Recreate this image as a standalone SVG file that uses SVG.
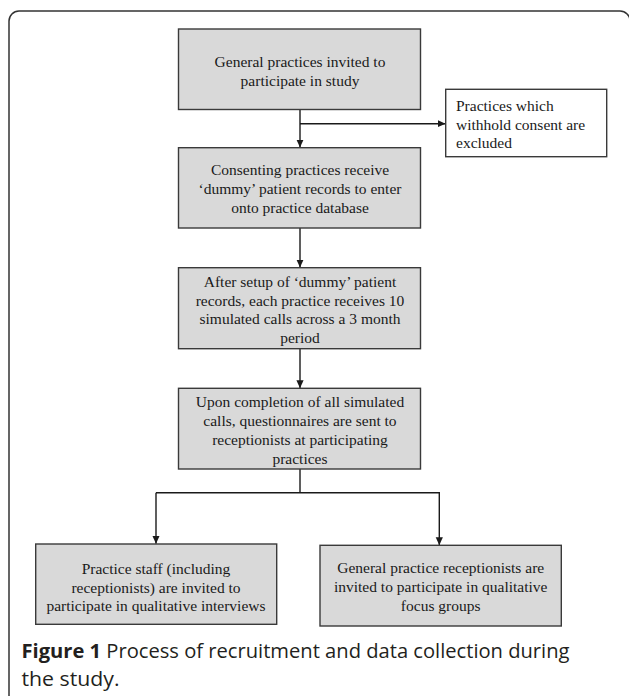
<svg xmlns="http://www.w3.org/2000/svg" width="629" height="696" viewBox="0 0 629 696">
<defs>
<style>
.box{fill:#d9d9d9;stroke:#3a3a3a;stroke-width:1.4}
.wbox{fill:#ffffff;stroke:#3a3a3a;stroke-width:1.4}
.t{font-family:"Liberation Serif","Times New Roman",serif;font-size:15.5px;fill:#1a1a1a;text-anchor:middle}
.tl{font-family:"Liberation Serif","Times New Roman",serif;font-size:15.5px;fill:#1a1a1a;text-anchor:start}
.ln{fill:none;stroke:#1a1a1a;stroke-width:1.4}
.cap{font-family:"Open Sans","Noto Sans","Liberation Sans",sans-serif;font-size:19.5px;font-weight:500;fill:#231f20}
</style>
<marker id="ah" viewBox="0 0 10 10" refX="10" refY="5" markerWidth="8" markerHeight="8" markerUnits="userSpaceOnUse" orient="auto">
<path d="M0,0.5 L10,5 L0,9.5 Z" fill="#1a1a1a"/>
</marker>
</defs>
<rect width="629" height="696" fill="#ffffff"/>
<path d="M9,700 L9,21 A10,10 0 0 1 19,11 L620,11 A10,10 0 0 1 630,21 L630,700" fill="none" stroke="#333333" stroke-width="1.5"/>

<g id="connectors">
<line class="ln" x1="300" y1="109.5" x2="300" y2="147.5" marker-end="url(#ah)"/>
<line class="ln" x1="300" y1="123.7" x2="445.5" y2="123.7" marker-end="url(#ah)"/>
<line class="ln" x1="300" y1="228" x2="300" y2="267.5" marker-end="url(#ah)"/>
<line class="ln" x1="300" y1="348.7" x2="300" y2="388.2" marker-end="url(#ah)"/>
<polyline class="ln" points="300,469 300,492.7"/>
<polyline class="ln" points="156,492.7 439.3,492.7 439.3,545.2" marker-end="url(#ah)"/>
<line class="ln" x1="156" y1="492.7" x2="156" y2="543.8" marker-end="url(#ah)"/>
</g>

<g id="n1">
<rect class="box" x="178.5" y="29" width="242" height="80.5"/>
<text class="t" x="300" y="66.5">General practices invited to</text>
<text class="t" x="300" y="85.5">participate in study</text>
</g>

<g id="n-excluded">
<rect class="wbox" x="445.7" y="89.3" width="161" height="67.4"/>
<text class="tl" x="456" y="111">Practices which</text>
<text class="tl" x="456" y="129.5">withhold consent are</text>
<text class="tl" x="456" y="148">excluded</text>
</g>

<g id="n2">
<rect class="box" x="178.5" y="147.7" width="242" height="80.3"/>
<text class="t" x="300" y="175">Consenting practices receive</text>
<text class="t" x="300" y="194">‘dummy’ patient records to enter</text>
<text class="t" x="300" y="213">onto practice database</text>
</g>

<g id="n3">
<rect class="box" x="178.5" y="267.7" width="242" height="81"/>
<text class="t" x="300" y="287">After setup of ‘dummy’ patient</text>
<text class="t" x="300" y="305.5">records, each practice receives 10</text>
<text class="t" x="300" y="324">simulated calls across a 3 month</text>
<text class="t" x="300" y="343">period</text>
</g>

<g id="n4">
<rect class="box" x="178.5" y="388.3" width="242" height="80.7"/>
<text class="t" x="300" y="407">Upon completion of all simulated</text>
<text class="t" x="300" y="426">calls, questionnaires are sent to</text>
<text class="t" x="300" y="444.5">receptionists at participating</text>
<text class="t" x="300" y="463.5">practices</text>
</g>

<g id="n5">
<rect class="box" x="35.7" y="544" width="241" height="80.3"/>
<text class="t" x="156" y="573.5">Practice staff (including</text>
<text class="t" x="156" y="592.5">receptionists) are invited to</text>
<text class="t" x="156" y="611">participate in qualitative interviews</text>
</g>

<g id="n6">
<rect class="box" x="320" y="545.3" width="241.3" height="80.7"/>
<text class="t" x="440.7" y="573">General practice receptionists are</text>
<text class="t" x="440.7" y="592">invited to participate in qualitative</text>
<text class="t" x="440.7" y="610.5">focus groups</text>
</g>

<g id="caption">
<text class="cap" x="21.5" y="658" textLength="548" lengthAdjust="spacingAndGlyphs"><tspan font-weight="bold">Figure 1</tspan> Process of recruitment and data collection during</text>
<text class="cap" x="21.5" y="686" textLength="98" lengthAdjust="spacingAndGlyphs">the study.</text>
</g>
</svg>
